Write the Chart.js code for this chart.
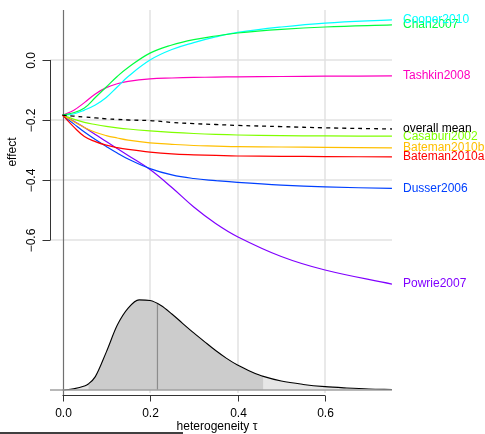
<!DOCTYPE html>
<html>
<head>
<meta charset="utf-8">
<script src="https://cdn.jsdelivr.net/npm/chart.js@4.4.1/dist/chart.umd.min.js"></script>
<style>
  body { margin: 0; background: #fff; }
  #wrap { width: 485px; height: 434px; }
</style>
</head>
<body>
<div id="wrap"><canvas id="tauChart" width="485" height="434"></canvas></div>
<script>
var tau = [0, 0.025, 0.05, 0.075, 0.1, 0.125, 0.15, 0.2, 0.25, 0.3, 0.35, 0.4, 0.5, 0.6, 0.753];

var studies = ['Bateman2010a', 'Bateman2010b', 'Casaburi2002', 'Chan2007',
               'Cooper2010', 'Dusser2006', 'Powrie2007', 'Tashkin2008'];

var bateman2010a = [-0.184, -0.222, -0.255, -0.272, -0.284, -0.292, -0.298, -0.307, -0.313, -0.316, -0.318, -0.320, -0.321, -0.322, -0.323];
var bateman2010b = [-0.184, -0.205, -0.225, -0.241, -0.252, -0.260, -0.267, -0.276, -0.281, -0.285, -0.287, -0.289, -0.290, -0.291, -0.293];
var casaburi2002 = [-0.184, -0.197, -0.208, -0.215, -0.221, -0.226, -0.230, -0.236, -0.241, -0.245, -0.248, -0.250, -0.252, -0.253, -0.254];
var chan2007     = [-0.184, -0.176, -0.160, -0.125, -0.090, -0.055, -0.025, 0.023, 0.050, 0.068, 0.080, 0.090, 0.102, 0.110, 0.117];
var cooper2010   = [-0.184, -0.180, -0.167, -0.150, -0.125, -0.090, -0.055, 0.000, 0.035, 0.058, 0.077, 0.092, 0.110, 0.123, 0.134];
var dusser2006   = [-0.184, -0.212, -0.240, -0.265, -0.288, -0.310, -0.330, -0.362, -0.383, -0.395, -0.402, -0.408, -0.417, -0.423, -0.428];
var powrie2007   = [-0.184, -0.203, -0.225, -0.248, -0.272, -0.295, -0.318, -0.365, -0.425, -0.490, -0.545, -0.589, -0.655, -0.700, -0.747];
var tashkin2008  = [-0.184, -0.168, -0.142, -0.113, -0.092, -0.079, -0.071, -0.063, -0.060, -0.058, -0.057, -0.056, -0.055, -0.054, -0.053];
var overallMean  = [-0.184, -0.187, -0.190, -0.193, -0.196, -0.198, -0.200, -0.202, -0.208, -0.212, -0.215, -0.218, -0.222, -0.226, -0.230];

var studyValues = [bateman2010a, bateman2010b, casaburi2002, chan2007,
                   cooper2010, dusser2006, powrie2007, tashkin2008];
var studyColors = ['#FF0000', '#FFBF00', '#80FF00', '#00FF40',
                   '#00FFFF', '#0040FF', '#8000FF', '#FF00BF'];

// posterior density of tau
var densTau = [0, 0.025, 0.05, 0.059, 0.075, 0.1, 0.125, 0.15, 0.175, 0.2, 0.225, 0.25, 0.275, 0.3, 0.325, 0.35,
               0.375, 0.4, 0.425, 0.45, 0.459, 0.5, 0.55, 0.6, 0.65, 0.7, 0.753];
var densVal = [0, 0.05, 0.18, 0.27, 0.6, 1.7, 2.9, 3.67, 4.04, 4.01, 3.79, 3.41, 2.98, 2.56, 2.16, 1.77,
               1.42, 1.12, 0.88, 0.67, 0.61, 0.40, 0.25, 0.15, 0.09, 0.045, 0.022];
var intervalLo = 0.059, intervalHi = 0.459;
var medianTau = 0.217, medianDens = 3.85;

var xTicks = [0, 0.2, 0.4, 0.6];
var yTicks = [0, -0.2, -0.4, -0.6];
var yTickLabels = ['0.0', '\u22120.2', '\u22120.4', '\u22120.6'];
var xTickLabels = ['0.0', '0.2', '0.4', '0.6'];

var FONT = '12px "Liberation Sans", Arial, sans-serif';

function pts(xs, ys) {
    return xs.map(function (x, i) { return { x: x, y: ys[i] }; });
}

var datasets = [];

// density: light fill under whole curve, darker fill for the 95% interval
var inside = [];
densTau.forEach(function (t, i) {
    if (t >= intervalLo && t <= intervalHi) inside.push({ x: t, y: densVal[i] });
});
datasets.push({
    data: pts(densTau, densVal), yAxisID: 'yd', order: 10,
    borderColor: 'rgba(0,0,0,0)', backgroundColor: '#E6E6E6',
    fill: 'origin', pointRadius: 0, cubicInterpolationMode: 'monotone'
});
datasets.push({
    data: inside, yAxisID: 'yd', order: 9,
    borderColor: 'rgba(0,0,0,0)', backgroundColor: '#CCCCCC',
    fill: 'origin', pointRadius: 0, cubicInterpolationMode: 'monotone'
});
datasets.push({
    data: [{ x: medianTau, y: 0 }, { x: medianTau, y: medianDens }], yAxisID: 'yd', order: 8,
    borderColor: '#8c8c8c', borderWidth: 1.2, pointRadius: 0, fill: false
});
datasets.push({
    data: pts(densTau, densVal), yAxisID: 'yd', order: 7,
    borderColor: '#000', borderWidth: 1.1, pointRadius: 0, fill: false,
    cubicInterpolationMode: 'monotone'
});

studies.forEach(function (name, i) {
    datasets.push({
        label: name, data: pts(tau, studyValues[i]), yAxisID: 'y', order: 1,
        borderColor: studyColors[i], borderWidth: 1.2, pointRadius: 0, fill: false,
        tension: 0.4, endLabel: name, endColor: studyColors[i]
    });
});
datasets.push({
    label: 'overall mean', data: pts(tau, overallMean), yAxisID: 'y', order: 0,
    borderColor: '#000', borderWidth: 1.3, borderDash: [4, 4], pointRadius: 0, fill: false,
    tension: 0.4, endLabel: 'overall mean', endColor: '#000'
});

// R-like axes, grid and labels drawn from the chart's own scales
var rStyle = {
    id: 'rStyle',
    beforeDatasetsDraw: function (chart) {
        var c = chart.ctx, a = chart.chartArea, xs = chart.scales.x, ys = chart.scales.y;
        c.save();
        c.strokeStyle = '#e2e2e2';
        c.lineWidth = 1.5;
        yTicks.forEach(function (v) {
            var py = Math.round(ys.getPixelForValue(v));
            c.beginPath(); c.moveTo(a.left, py); c.lineTo(a.right, py); c.stroke();
        });
        xTicks.forEach(function (v) {
            if (v === 0) return;
            var px = Math.round(xs.getPixelForValue(v));
            c.beginPath(); c.moveTo(px, a.top); c.lineTo(px, a.bottom - 2); c.stroke();
        });
        var p0 = Math.round(xs.getPixelForValue(0)) + 0.5;
        c.strokeStyle = '#707070';
        c.lineWidth = 1.2;
        c.beginPath(); c.moveTo(p0, a.top); c.lineTo(p0, a.bottom); c.stroke();
        c.restore();
    },
    afterDatasetsDraw: function (chart) {
        var c = chart.ctx, a = chart.chartArea, xs = chart.scales.x, ys = chart.scales.y, yd = chart.scales.yd;
        c.save();
        // density baseline
        var b = yd.getPixelForValue(0);
        c.strokeStyle = '#a0a0a0';
        c.lineWidth = 1.5;
        c.beginPath(); c.moveTo(a.left, b); c.lineTo(a.right, b); c.stroke();

        c.strokeStyle = '#333';
        c.fillStyle = '#000';
        c.lineWidth = 1;
        c.font = FONT;

        // y axis
        var ax = a.left + 0.5;
        c.beginPath();
        c.moveTo(ax, ys.getPixelForValue(yTicks[0]));
        c.lineTo(ax, ys.getPixelForValue(yTicks[yTicks.length - 1]));
        c.stroke();
        yTicks.forEach(function (v, i) {
            var py = Math.round(ys.getPixelForValue(v)) + 0.5;
            c.beginPath(); c.moveTo(ax, py); c.lineTo(ax - 8, py); c.stroke();
            c.save();
            c.translate(32, py);
            c.rotate(-Math.PI / 2);
            c.textAlign = 'center'; c.textBaseline = 'middle';
            c.fillText(yTickLabels[i], 0, 0);
            c.restore();
        });
        c.save();
        c.translate(13, 152);
        c.rotate(-Math.PI / 2);
        c.textAlign = 'center'; c.textBaseline = 'middle';
        c.fillText('effect', 0, 0);
        c.restore();

        // x axis
        var ay = a.bottom + 0.5;
        c.beginPath();
        c.moveTo(xs.getPixelForValue(xTicks[0]), ay);
        c.lineTo(xs.getPixelForValue(xTicks[xTicks.length - 1]), ay);
        c.stroke();
        c.textAlign = 'center'; c.textBaseline = 'middle';
        xTicks.forEach(function (v, i) {
            var px = Math.round(xs.getPixelForValue(v)) + 0.5;
            c.beginPath(); c.moveTo(px, ay); c.lineTo(px, ay + 6); c.stroke();
            c.fillText(xTickLabels[i], px, 414);
        });
        c.fillText('heterogeneity \u03C4', 217, 427);

        // labels at the right end of each curve
        c.textAlign = 'left';
        chart.data.datasets.forEach(function (ds) {
            if (!ds.endLabel) return;
            var last = ds.data[ds.data.length - 1];
            c.fillStyle = ds.endColor;
            c.fillText(ds.endLabel, a.right + 11, ys.getPixelForValue(last.y));
        });

        // stray rule at the bottom edge
        c.strokeStyle = '#000';
        c.lineWidth = 1.5;
        c.beginPath(); c.moveTo(0, 433); c.lineTo(183, 433); c.stroke();
        c.restore();
    }
};

new Chart(document.getElementById('tauChart').getContext('2d'), {
    type: 'line',
    data: { datasets: datasets },
    options: {
        responsive: false,
        animation: false,
        devicePixelRatio: 1,
        layout: { padding: { left: 50, top: 10, right: 93, bottom: 39 } },
        plugins: { legend: { display: false }, tooltip: { enabled: false } },
        scales: {
            x: { type: 'linear', min: -0.0286, max: 0.7531, display: false },
            y: { type: 'linear', min: -1.1167, max: 0.1667, display: false },
            yd: { type: 'linear', min: -0.224, max: 17.04, display: false }
        }
    },
    plugins: [rStyle]
});
</script>
</body>
</html>
